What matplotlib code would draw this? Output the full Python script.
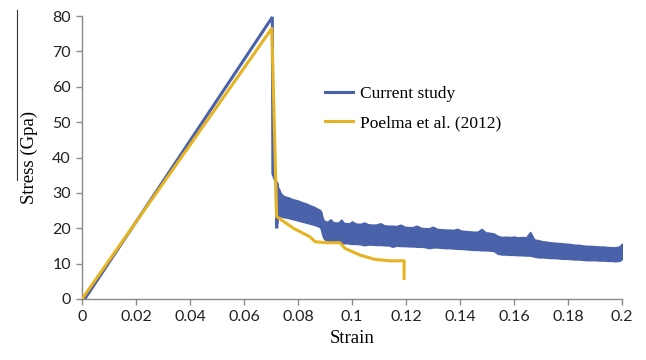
import numpy as np
import matplotlib
matplotlib.use("Agg")
import matplotlib.pyplot as plt
from matplotlib.lines import Line2D

# elastic loading + fracture of the current study (center line)
cur_strain = [0.001, 0.0705, 0.0707, 0.0719, 0.0721, 0.0724]
cur_stress = [0.0, 79.7, 35.5, 33.0, 20.0, 27.0]

# post-fracture noisy region of the current study: upper / lower envelope
band_strain = [0.0722, 0.0726, 0.0730, 0.0735, 0.0740, 0.0745, 0.0750, 0.0760,
               0.0770, 0.0780, 0.0790, 0.0800, 0.0810, 0.0820, 0.0830, 0.0840,
               0.0850, 0.0860, 0.0870, 0.0880, 0.0885, 0.0890, 0.0895, 0.0900,
               0.0910, 0.0920, 0.0930, 0.0940, 0.0950, 0.0960, 0.0970, 0.0980,
               0.0990, 0.1000, 0.1015, 0.1030, 0.1045, 0.1060, 0.1075, 0.1090,
               0.1105, 0.1120, 0.1135, 0.1150, 0.1165, 0.1180, 0.1195, 0.1210,
               0.1225, 0.1240, 0.1255, 0.1270, 0.1285, 0.1300, 0.1315, 0.1330,
               0.1345, 0.1360, 0.1375, 0.1390, 0.1405, 0.1420, 0.1435, 0.1450,
               0.1465, 0.1480, 0.1495, 0.1510, 0.1525, 0.1540, 0.1555, 0.1570,
               0.1585, 0.1600, 0.1615, 0.1630, 0.1645, 0.1660, 0.1675, 0.1690,
               0.1705, 0.1720, 0.1735, 0.1750, 0.1765, 0.1780, 0.1795, 0.1810,
               0.1825, 0.1840, 0.1855, 0.1870, 0.1885, 0.1900, 0.1915, 0.1930,
               0.1945, 0.1960, 0.1975, 0.1990, 0.2000]
band_upper = [33.0, 31.5, 31.0, 30.0, 29.6, 29.2, 29.0, 28.8,
              28.5, 28.2, 28.0, 27.8, 27.5, 27.2, 27.0, 26.6,
              26.3, 26.0, 25.6, 25.2, 24.8, 23.2, 22.2, 22.0,
              21.8, 22.5, 21.7, 21.6, 21.6, 22.4, 21.5, 21.4,
              21.4, 21.9, 21.3, 21.2, 21.6, 21.1, 21.0, 21.0,
              21.4, 20.8, 20.7, 20.7, 20.6, 21.0, 20.4, 20.3,
              20.3, 20.7, 20.1, 20.0, 20.0, 20.4, 19.8, 19.7,
              19.6, 19.6, 19.5, 19.8, 19.3, 19.2, 19.1, 19.0,
              19.0, 19.8, 18.8, 18.7, 18.5, 17.8, 17.5, 17.6,
              17.5, 17.6, 17.4, 17.5, 17.4, 18.9, 16.8, 16.6,
              16.3, 16.2, 16.0, 15.9, 15.8, 15.7, 15.6, 15.5,
              15.3, 15.3, 15.1, 15.0, 15.0, 14.9, 14.8, 14.8,
              14.7, 14.6, 14.6, 14.8, 15.6]
band_lower = [21.5, 23.8, 23.6, 23.4, 23.3, 23.2, 23.1, 23.0,
              22.8, 22.6, 22.4, 22.2, 22.0, 21.8, 21.6, 21.4,
              21.2, 21.0, 20.7, 20.4, 19.8, 18.2, 17.2, 16.8,
              16.6, 16.4, 16.2, 16.1, 16.0, 15.9, 15.8, 15.8,
              15.7, 15.6, 15.6, 15.5, 15.2, 15.4, 15.4, 15.3,
              15.3, 15.2, 15.2, 14.8, 15.1, 15.0, 15.0, 14.9,
              14.9, 14.8, 14.8, 14.7, 14.4, 14.6, 14.6, 14.5,
              14.4, 14.4, 14.3, 14.2, 14.2, 14.1, 14.0, 13.9,
              13.9, 13.8, 13.8, 13.7, 13.6, 12.8, 12.6, 12.6,
              12.5, 12.5, 12.4, 12.4, 12.3, 12.3, 12.0, 11.8,
              11.8, 11.7, 11.6, 11.6, 11.5, 11.4, 11.4, 11.3,
              11.2, 11.2, 11.1, 11.0, 11.0, 11.0, 10.9, 10.9,
              10.8, 10.8, 10.7, 10.8, 11.3]

# Poelma et al. (2012)
poe_strain = [0.0, 0.0703, 0.0721, 0.0783, 0.0844, 0.0863, 0.0906, 0.0956,
              0.0974, 0.103, 0.1085, 0.114, 0.1193, 0.1193]
poe_stress = [0.0, 76.5, 23.3, 20.0, 17.6, 16.2, 15.9, 15.9,
              14.3, 12.4, 11.2, 10.8, 10.8, 5.8]

x_ticks = [0, 0.02, 0.04, 0.06, 0.08, 0.1, 0.12, 0.14, 0.16, 0.18, 0.2]
x_tick_labels = ["0", "0.02", "0.04", "0.06", "0.08", "0.1", "0.12",
                 "0.14", "0.16", "0.18", "0.2"]
y_ticks = [0, 10, 20, 30, 40, 50, 60, 70, 80]

blue = "#4a62aa"
yellow = "#e6b422"
axis_gray = "#8a8a8a"

fig = plt.figure(figsize=(6.46, 3.6), dpi=100)
ax = fig.add_axes([82 / 646, 1 - 299 / 360, 540 / 646, 283 / 360])

ax.plot(cur_strain, cur_stress, color=blue, lw=2.2, solid_joinstyle="miter",
        label="Current study", zorder=2)
ax.fill_between(band_strain, band_lower, band_upper, color=blue, lw=1.2,
                edgecolor=blue, zorder=2)
ax.plot(poe_strain, poe_stress, color=yellow, lw=2.2, label="Poelma et al. (2012)",
        zorder=3)

ax.set_xlim(0, 0.2)
ax.set_ylim(0, 80)
ax.set_xticks(x_ticks)
ax.set_xticklabels(x_tick_labels)
ax.set_yticks(y_ticks)

for side in ["top", "right"]:
    ax.spines[side].set_visible(False)
for side in ["left", "bottom"]:
    ax.spines[side].set_color(axis_gray)
    ax.spines[side].set_linewidth(1.0)
ax.tick_params(axis="both", direction="out", length=4, width=1.0,
               color=axis_gray, labelsize=11.5, pad=4)
for lab in ax.get_xticklabels() + ax.get_yticklabels():
    lab.set_family("Lato")
    lab.set_color("#222222")

ax.set_xlabel("Strain", family="Liberation Serif", fontsize=13.5, labelpad=4)
ax.set_ylabel("Stress (Gpa)", family="Liberation Serif", fontsize=13.5, labelpad=10)

ax.legend(loc="upper left", bbox_to_anchor=(325 / 646, 1 - 86 / 360),
          bbox_transform=fig.transFigure, frameon=False, borderpad=0,
          borderaxespad=0, handlelength=1.6, handletextpad=0.4,
          labelspacing=0.75, prop={"family": "Liberation Serif", "size": 12.5})

# thin rule beside the y-axis title
fig.add_artist(Line2D([16.5 / 646, 16.5 / 646], [1 - 10 / 360, 1 - 180 / 360],
                      transform=fig.transFigure, color="#333333", lw=0.8))

fig.savefig("out.png", dpi=100)
